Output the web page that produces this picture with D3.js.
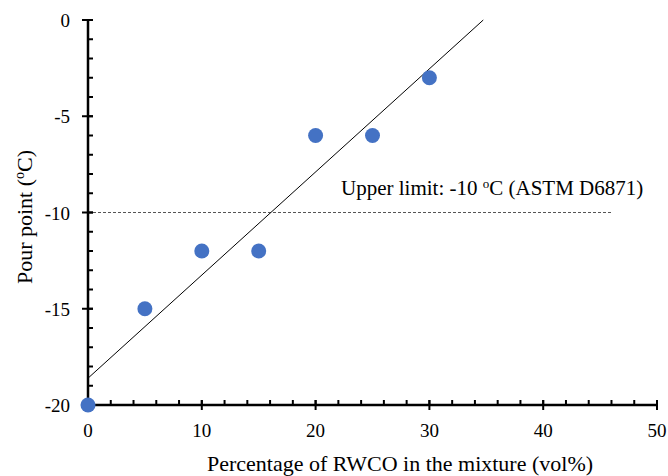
<!DOCTYPE html>
<head>
  <meta charset="utf-8">
  <script src="https://d3js.org/d3.v7.min.js"></script>
  <style>
    body { margin:0; background:#fff; }
    text { font-family: "Liberation Serif", "Times New Roman", serif; fill:#000; }
  </style>
</head>
<body>
  <script>
    // data
    var rwco = [0, 5, 10, 15, 20, 25, 30];
    var pourPoint = [-20, -15, -12, -12, -6, -6, -3];
    var xTicks = [0, 10, 20, 30, 40, 50];
    var yTicks = [0, -5, -10, -15, -20];
    var upperLimit = -10;
    var limitEnd = 46;

    var width = 668, height = 476;
    var margin = {top: 20, right: 11, bottom: 71, left: 88};

    var svg = d3.select("body").append("svg")
      .attr("width", width)
      .attr("height", height);

    var x = d3.scaleLinear().domain([0, 50]).range([margin.left, width - margin.right]);
    var y = d3.scaleLinear().domain([-20, 0]).range([height - margin.bottom, margin.top]);

    // linear trendline (least squares)
    var mx = d3.mean(rwco), my = d3.mean(pourPoint);
    var sxy = d3.sum(rwco, function(d, i){ return (d - mx) * (pourPoint[i] - my); });
    var sxx = d3.sum(rwco, function(d){ return (d - mx) * (d - mx); });
    var slope = sxy / sxx, icept = my - slope * mx;
    var xEnd = -icept / slope;

    // upper limit dashed line
    svg.append("line")
      .attr("x1", x(0)).attr("x2", x(limitEnd))
      .attr("y1", y(upperLimit)).attr("y2", y(upperLimit))
      .attr("stroke", "#555").attr("stroke-width", 1)
      .attr("stroke-dasharray", "3,2");

    svg.append("text")
      .attr("x", 341).attr("y", y(upperLimit) - 18)
      .style("font-size", "21px")
      .html('Upper limit: -10 <tspan dy="-7" style="font-size:13px">o</tspan><tspan dy="7">C (ASTM D6871)</tspan>');

    // trendline
    svg.append("line")
      .attr("x1", x(0)).attr("y1", y(icept))
      .attr("x2", x(xEnd)).attr("y2", y(0))
      .attr("stroke", "#000").attr("stroke-width", 1);

    // axes
    var xMinor = d3.range(0, 51, 2);
    var yMinor = d3.range(-20, 1, 1);

    var gx = svg.append("g").attr("transform", "translate(0," + y(-20) + ")");
    gx.selectAll(".minor").data(xMinor).enter().append("line")
      .attr("x1", function(d){ return x(d); }).attr("x2", function(d){ return x(d); })
      .attr("y1", 0).attr("y2", -5)
      .attr("stroke", "#000").attr("stroke-width", 2);
    gx.selectAll(".major").data(xTicks).enter().append("line")
      .attr("x1", function(d){ return x(d); }).attr("x2", function(d){ return x(d); })
      .attr("y1", -5).attr("y2", 5)
      .attr("stroke", "#000").attr("stroke-width", 2);
    gx.append("line")
      .attr("x1", x(0)).attr("x2", x(50))
      .attr("stroke", "#000").attr("stroke-width", 2.5);
    gx.selectAll(".lab").data(xTicks).enter().append("text")
      .attr("x", function(d){ return x(d); }).attr("y", 32)
      .attr("text-anchor", "middle")
      .style("font-size", "19px")
      .text(function(d){ return d; });

    var gy = svg.append("g").attr("transform", "translate(" + x(0) + ",0)");
    gy.selectAll(".minor").data(yMinor).enter().append("line")
      .attr("y1", function(d){ return y(d); }).attr("y2", function(d){ return y(d); })
      .attr("x1", 0).attr("x2", 5)
      .attr("stroke", "#000").attr("stroke-width", 2);
    gy.selectAll(".major").data(yTicks).enter().append("line")
      .attr("y1", function(d){ return y(d); }).attr("y2", function(d){ return y(d); })
      .attr("x1", -6).attr("x2", 5)
      .attr("stroke", "#000").attr("stroke-width", 2);
    gy.append("line")
      .attr("y1", y(-20)).attr("y2", y(0))
      .attr("stroke", "#000").attr("stroke-width", 2.5);
    gy.selectAll(".lab").data(yTicks).enter().append("text")
      .attr("x", -18).attr("y", function(d){ return y(d) + 7; })
      .attr("text-anchor", "end")
      .style("font-size", "19px")
      .text(function(d){ return d; });

    // points
    svg.append("g").selectAll("circle").data(rwco).enter().append("circle")
      .attr("cx", function(d){ return x(d); })
      .attr("cy", function(d, i){ return y(pourPoint[i]); })
      .attr("r", 7.5)
      .attr("fill", "#4472C4");

    // axis titles
    svg.append("text")
      .attr("x", 400).attr("y", 471)
      .attr("text-anchor", "middle")
      .style("font-size", "22px")
      .text("Percentage of RWCO in the mixture (vol%)");

    svg.append("text")
      .attr("transform", "translate(32,217) rotate(-90)")
      .attr("text-anchor", "middle")
      .style("font-size", "22px")
      .html('Pour point (<tspan dy="-8" style="font-size:14px">o</tspan><tspan dy="8">C)</tspan>');
  </script>
</body>
